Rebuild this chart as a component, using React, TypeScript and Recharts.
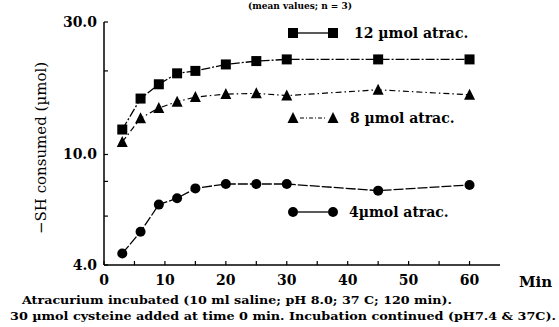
import React from "react";
import { LineChart, Line, XAxis, YAxis } from "recharts";

const times = [3, 6, 9, 12, 15, 20, 25, 30, 45, 60];
const umol12 = [12.3, 15.9, 17.9, 19.6, 20.0, 21.1, 21.7, 22.0, 22.0, 22.0];
const umol8 = [11.1, 13.5, 14.7, 15.5, 16.1, 16.5, 16.6, 16.3, 17.1, 16.4];
const umol4 = [4.4, 5.27, 6.6, 6.96, 7.55, 7.83, 7.83, 7.83, 7.41, 7.77];

const yTicks = [4, 5, 6, 7, 8, 9, 10, 20, 30];
const yMajor = [4, 10, 30];
const xTicks = [0, 5, 10, 15, 20, 25, 30, 35, 40, 45, 50, 55, 60];
const xMajor = [0, 10, 20, 30, 40, 50, 60];

const data = times.map((t, i) => ({ t, a: umol12[i], b: umol8[i], c: umol4[i] }));

const FONT = "'DejaVu Serif', serif";

const Square = (p: any) =>
  p.cx == null ? <g key={p.key} /> : <rect key={p.key} x={p.cx - 5} y={p.cy - 5} width={10} height={10} fill="#000" />;
const Tri = (p: any) =>
  p.cx == null ? <g key={p.key} /> : (
    <polygon key={p.key} points={`${p.cx},${p.cy - 6} ${p.cx - 5.5},${p.cy + 5} ${p.cx + 5.5},${p.cy + 5}`} fill="#000" />
  );
const Circ = (p: any) =>
  p.cx == null ? <g key={p.key} /> : <circle key={p.key} cx={p.cx} cy={p.cy} r={5} fill="#000" />;

const YTick = (p: any) => {
  const v = p.payload.value;
  const major = yMajor.includes(v);
  return (
    <g>
      <line x1={p.x} x2={p.x + 4} y1={p.y} y2={p.y} stroke="#000" strokeWidth={1.2} />
      {major && (
        <text x={p.x - 7} y={p.y + 5} textAnchor="end" fontFamily={FONT} fontWeight="bold" fontSize={14} fill="#000">
          {v.toFixed(1)}
        </text>
      )}
    </g>
  );
};

const XTick = (p: any) => {
  const v = p.payload.value;
  const major = xMajor.includes(v);
  return (
    <g>
      <line x1={p.x} x2={p.x} y1={p.y} y2={p.y - 4} stroke="#000" strokeWidth={1.2} />
      {major && (
        <text x={p.x} y={p.y + 20} textAnchor="middle" fontFamily={FONT} fontWeight="bold" fontSize={14} fill="#000">
          {v}
        </text>
      )}
    </g>
  );
};

export default function App() {
  return (
    <div style={{ position: "absolute", left: 0, top: 0, width: 559, height: 327, background: "#fff" }}>
      <LineChart width={559} height={327} data={data} margin={{ top: 22, right: 59, bottom: 32, left: 0 }}>
        <XAxis
          dataKey="t"
          type="number"
          domain={[0, 65]}
          ticks={xTicks}
          tickSize={0}
          tickMargin={0}
          height={30}
          tick={<XTick />}
          axisLine={{ stroke: "#000", strokeWidth: 1.5 }}
          tickLine={false}
          allowDataOverflow
        />
        <YAxis
          type="number"
          scale="log"
          domain={[4, 30]}
          ticks={yTicks}
          width={104}
          tickSize={0}
          tickMargin={0}
          tick={<YTick />}
          axisLine={{ stroke: "#000", strokeWidth: 1.5 }}
          tickLine={false}
          allowDataOverflow
        />
        <Line dataKey="a" stroke="#000" strokeWidth={1.3} strokeDasharray="9 2 2 2" dot={Square} isAnimationActive={false} />
        <Line dataKey="b" stroke="#000" strokeWidth={1.2} strokeDasharray="6 3 1.5 3" dot={Tri} isAnimationActive={false} />
        <Line dataKey="c" stroke="#000" strokeWidth={1.3} strokeDasharray="10 2" dot={Circ} isAnimationActive={false} />
      </LineChart>
      <svg width={559} height={327} style={{ position: "absolute", left: 0, top: 0, pointerEvents: "none" }}>
        <text x={300} y={9} textAnchor="middle" fontFamily={FONT} fontWeight="bold" fontSize={9}>(mean values; n = 3)</text>
        {/* legends */}
        <rect x={288} y={28} width={10} height={10} fill="#000" />
        <line x1={298} x2={328} y1={33} y2={33} stroke="#000" strokeWidth={1.3} />
        <rect x={328} y={28} width={10} height={10} fill="#000" />
        <text x={354} y={38} fontFamily={FONT} fontWeight="bold" fontSize={14}>12 µmol atrac.</text>

        <polygon points="293,112 287.5,123 298.5,123" fill="#000" />
        <line x1={300} x2={327} y1={118} y2={118} stroke="#000" strokeWidth={1.2} strokeDasharray="4 2 1 2" />
        <polygon points="333,112 327.5,123 338.5,123" fill="#000" />
        <text x={350} y={123} fontFamily={FONT} fontWeight="bold" fontSize={14}>8 µmol atrac.</text>

        <circle cx={293} cy={212} r={5} fill="#000" />
        <line x1={298} x2={328} y1={212} y2={212} stroke="#000" strokeWidth={1.3} />
        <circle cx={333} cy={212} r={5} fill="#000" />
        <text x={349} y={217} fontFamily={FONT} fontWeight="bold" fontSize={14}>4µmol atrac.</text>

        <text transform="translate(46,148) rotate(-90)" textAnchor="middle" fontFamily={FONT} fontSize={15}>−SH consumed (µmol)</text>
        <text x={519} y={287} fontFamily={FONT} fontWeight="bold" fontSize={15}>Min</text>

        <text x={22} y={304} fontFamily={FONT} fontWeight="bold" fontSize={11} textLength={430} lengthAdjust="spacingAndGlyphs">
          Atracurium incubated (10 ml saline; pH 8.0; 37 C; 120 min).
        </text>
        <text x={10} y={320} fontFamily={FONT} fontWeight="bold" fontSize={11} textLength={546} lengthAdjust="spacingAndGlyphs">
          30 µmol cysteine added at time 0 min. Incubation continued (pH7.4 &amp; 37C).
        </text>
      </svg>
    </div>
  );
}
